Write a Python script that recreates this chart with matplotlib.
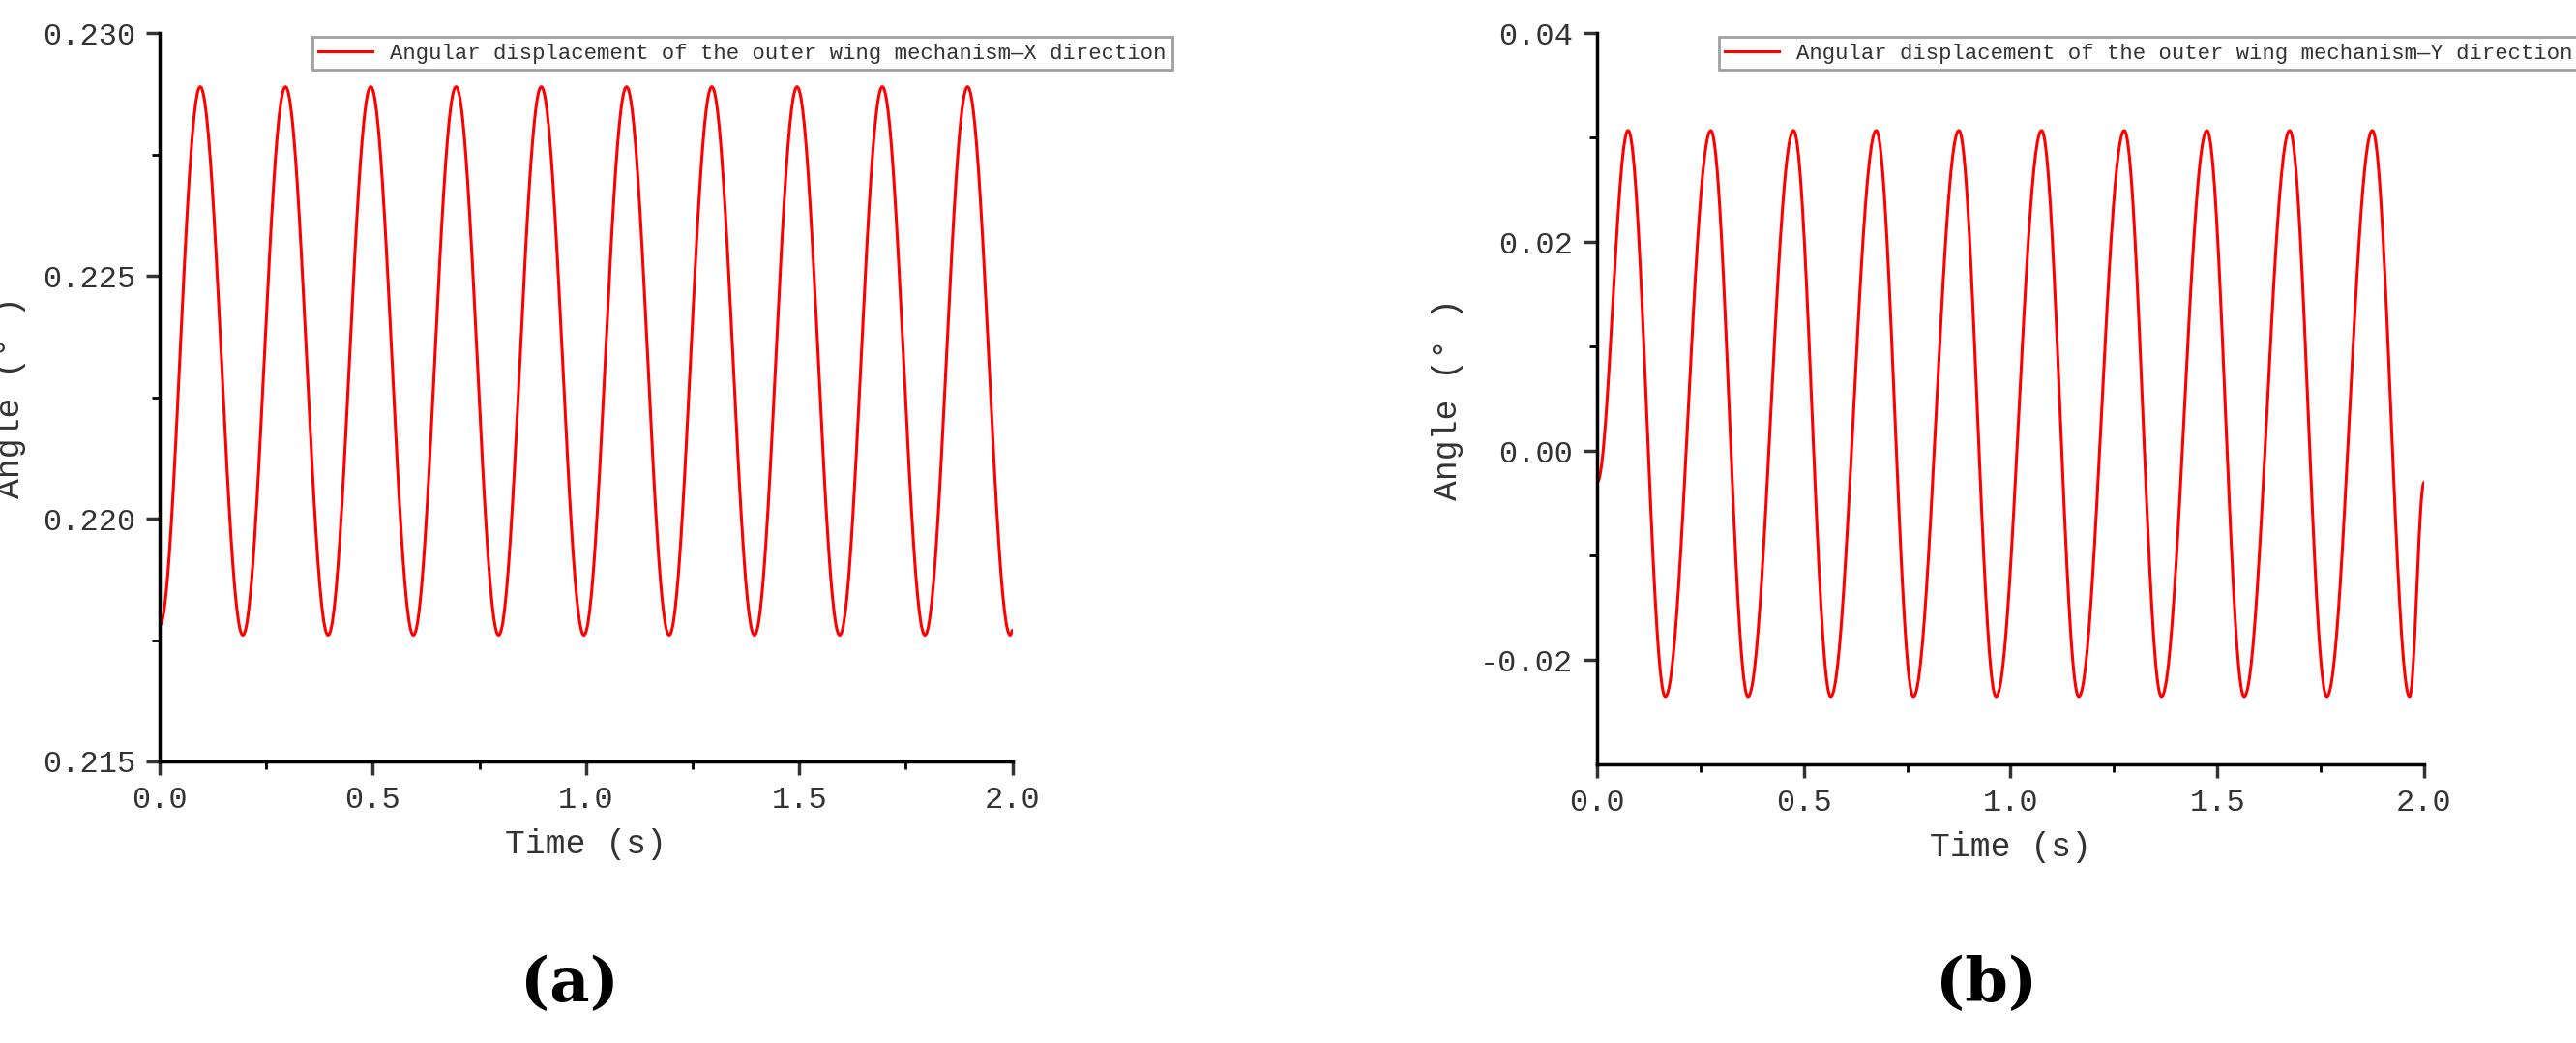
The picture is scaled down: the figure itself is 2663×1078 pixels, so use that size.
import numpy as np
import matplotlib
matplotlib.use("Agg")
import matplotlib.pyplot as plt

# extrema: (time s, angle deg)
x_times = [0.0, 0.095, 0.195, 0.295, 0.395, 0.495, 0.595, 0.695, 0.795, 0.895, 0.995,
           1.095, 1.195, 1.295, 1.395, 1.495, 1.595, 1.695, 1.795, 1.895, 1.995, 2.0]
x_vals = [0.2178, 0.2289, 0.2176, 0.2289, 0.2176, 0.2289, 0.2176, 0.2289, 0.2176, 0.2289, 0.2176,
          0.2289, 0.2176, 0.2289, 0.2176, 0.2289, 0.2176, 0.2289, 0.2176, 0.2289, 0.2176, 0.2177]

y_times = [0.0, 0.075, 0.165, 0.275, 0.365, 0.475, 0.565, 0.675, 0.765, 0.875, 0.965,
           1.075, 1.165, 1.275, 1.365, 1.475, 1.565, 1.675, 1.765, 1.875, 1.965, 2.0]
y_vals = [-0.003, 0.0307, -0.0235, 0.0307, -0.0235, 0.0307, -0.0235, 0.0307, -0.0235, 0.0307, -0.0235,
          0.0307, -0.0235, 0.0307, -0.0235, 0.0307, -0.0235, 0.0307, -0.0235, 0.0307, -0.0235, -0.003]


def smooth(ts, vs, n=60):
    # half-cosine ease between consecutive read points
    tt, vv = [], []
    for i in range(len(ts) - 1):
        s = np.linspace(0, 1, n)
        w = (1 - np.cos(np.pi * s)) / 2
        tt.extend(ts[i] + (ts[i + 1] - ts[i]) * s)
        vv.extend(vs[i] + (vs[i + 1] - vs[i]) * w)
    return tt, vv


plt.rcParams['font.family'] = ['Liberation Mono', 'DejaVu Sans']
fig = plt.figure(figsize=(26.63, 10.78), dpi=100)

panels = [
    ([0.062, 0.27, 0.331, 0.698], x_times, x_vals, (0.215, 0.230), [0.215, 0.220, 0.225, 0.230],
     "%.3f", "X", "(a)", 0.221),
    ([0.62, 0.267, 0.321, 0.701], y_times, y_vals, (-0.03, 0.04), [-0.02, 0.00, 0.02, 0.04],
     "%.2f", "Y", "(b)", 0.771),
]

for rect, ts, vs, ylim, yt, fmt, d, lab, lx in panels:
    ax = fig.add_axes(rect)
    t, v = smooth(ts, vs)
    ax.plot(t, v, color='red', lw=2.2,
            label="Angular displacement of the outer wing mechanism\u2014%s direction" % d)
    ax.set_xlim(0, 2.0)
    ax.set_ylim(*ylim)
    ax.set_xticks([0.0, 0.5, 1.0, 1.5, 2.0])
    ax.set_xticks([0.25, 0.75, 1.25, 1.75], minor=True)
    ax.set_yticks(yt)
    mids = [(yt[i] + yt[i + 1]) / 2 for i in range(len(yt) - 1)]
    ax.set_yticks(mids, minor=True)
    ax.yaxis.set_major_formatter(matplotlib.ticker.FormatStrFormatter(fmt))
    ax.xaxis.set_major_formatter(matplotlib.ticker.FormatStrFormatter("%.1f"))
    for s in ['top', 'right']:
        ax.spines[s].set_visible(False)
    for s in ['left', 'bottom']:
        ax.spines[s].set_linewidth(2.5)
    ax.tick_params(which='major', direction='out', length=10, width=2.5, labelsize=23,
                   colors='#333333', pad=8)
    ax.tick_params(which='minor', direction='out', length=6, width=2)
    ax.set_xlabel("Time (s)", fontsize=25, color='#333333', labelpad=10)
    ax.set_ylabel("Angle (\u00b0 )", fontsize=25, color='#333333', labelpad=12)
    leg = ax.legend(loc='upper right', bbox_to_anchor=(1.2, 1.01), fontsize=16, frameon=True,
                    fancybox=False, handlelength=2.5, borderpad=0.3)
    leg.get_frame().set_edgecolor('#888888')
    leg.get_frame().set_linewidth(2)
    for tx in leg.get_texts():
        tx.set_color('#333333')
    fig.text(lx, 0.04, lab, fontsize=46, family='DejaVu Serif', fontweight='bold', ha='center')

fig.savefig("out.png", dpi=100)
